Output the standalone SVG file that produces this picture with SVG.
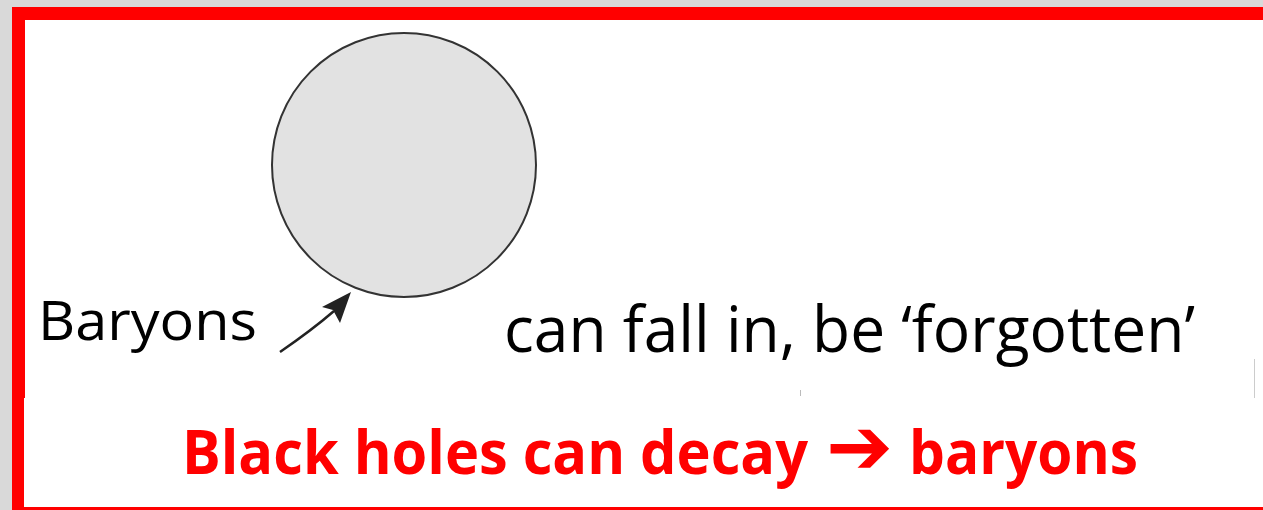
<svg xmlns="http://www.w3.org/2000/svg" width="1263" height="510" viewBox="0 0 1263 510">
<style>
.lbl{font-family:"Open Sans","Noto Sans","Liberation Sans",sans-serif;fill:#000}
.red{font-family:"Open Sans","Noto Sans","Liberation Sans",sans-serif;font-weight:bold;fill:#ff0000}
.arr{font-family:"DejaVu Sans",sans-serif;font-weight:bold}
</style>
<rect x="0" y="0" width="1263" height="510" fill="#d9d9d9"/>
<rect x="12" y="7" width="1251" height="503" fill="#ff0000"/>
<rect x="25" y="20" width="1238" height="487" fill="#ffffff"/>
<rect x="24" y="398" width="1" height="109" fill="#ffffff"/>
<line x1="1254.5" y1="359" x2="1254.5" y2="398" stroke="#cccccc" stroke-width="1"/>
<line x1="800.5" y1="390" x2="800.5" y2="396" stroke="#bbbbbb" stroke-width="1"/>
<g id="blackhole">
<circle cx="404" cy="165" r="132" fill="#e2e2e2" stroke="#333333" stroke-width="2"/>
</g>
<g id="connectors">
<path d="M280,352 Q312,330 334,311" fill="none" stroke="#222222" stroke-width="2.5"/>
<polygon points="351,292 322,307 333,310 340,323" fill="#222222"/>
</g>
<g id="baryons">
<text class="lbl" x="38" y="340" font-size="54" textLength="219" lengthAdjust="spacingAndGlyphs">Baryons</text>
</g>
<g id="fall">
<text class="lbl" x="504" y="352" font-size="64" textLength="691" lengthAdjust="spacingAndGlyphs">can fall in, be ‘forgotten’</text>
</g>
<g id="decay">
<text class="red" y="474" font-size="60"><tspan x="182" textLength="626" lengthAdjust="spacingAndGlyphs">Black holes can decay</tspan><tspan class="arr" x="826" font-size="80">➔</tspan><tspan x="909" textLength="229" lengthAdjust="spacingAndGlyphs">baryons</tspan></text>
</g>
</svg>
